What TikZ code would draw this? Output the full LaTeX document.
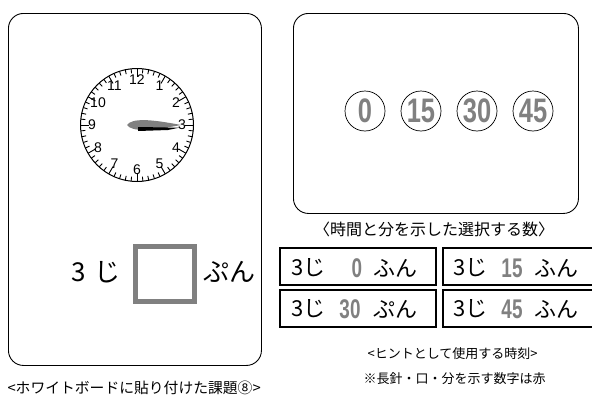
\documentclass[tikz,border=0pt]{standalone}
\usepackage{fontspec}
\usetikzlibrary{calc}
\setmainfont{Liberation Sans}
\newfontfamily\jp{Noto Sans CJK JP}
\definecolor{redgray}{HTML}{808080}
\tikzset{
  board/.style={draw, line width=0.9pt, rounded corners=15pt},
  hintbox/.style={draw, line width=1.4pt},
  numcirc/.style={draw, circle, line width=0.7pt, minimum size=40pt, inner sep=0pt},
  captext/.style={font=\jp\fontsize{13}{15}\selectfont},
  numtxt/.style={text=redgray, font=\bfseries\fontsize{34}{34}\selectfont, xscale=0.75, inner sep=0pt},
  hint/.style={inner sep=0pt, font=\jp\fontsize{22}{22}\selectfont},
  hnum/.style={inner sep=0pt, text=redgray, font=\bfseries\fontsize{27}{27}\selectfont, xscale=0.7},
  bigtxt/.style={inner sep=0pt, font=\jp\fontsize{26}{26}\selectfont}
}
\begin{document}
\begin{tikzpicture}[x=1pt,y=-1pt]
\useasboundingbox (0,0) rectangle (592,399);
% boards
\node[board, minimum width=253pt, minimum height=352pt, anchor=north west] (lb) at (8,13) {};
\node[board, minimum width=285pt, minimum height=200pt, anchor=north west] (rb) at (293,13) {};
% clock
\coordinate (cc) at (137,125);
\draw[line width=1pt] (cc) circle (56.5);
\foreach \i in {0,...,59}{
  \pgfmathsetmacro{\ang}{90-6*\i}
  \pgfmathsetmacro{\rin}{mod(\i,5)==0 ? 48 : 52}
  \pgfmathsetmacro{\xa}{137+56.5*cos(\ang)}
  \pgfmathsetmacro{\ya}{125-56.5*sin(\ang)}
  \pgfmathsetmacro{\xb}{137+\rin*cos(\ang)}
  \pgfmathsetmacro{\yb}{125-\rin*sin(\ang)}
  \draw[line width=0.9pt] (\xa,\ya) -- (\xb,\yb);
}
\foreach \h in {1,...,12}{
  \pgfmathsetmacro{\ang}{90-30*\h}
  \pgfmathsetmacro{\xh}{137+45*cos(\ang)}
  \pgfmathsetmacro{\yh}{125-45*sin(\ang)}
  \node[font=\fontsize{14}{14}\selectfont, inner sep=0pt] (h\h) at (\xh,\yh) {\h};
}
% minute hand (gray leaf)
\fill[redgray] (127,125) .. controls (132,118) and (150,119) .. (181,125) .. controls (150,131) and (132,132) .. cycle;
% hour hand (black)
\fill[black] (138,127) -- (168,127.5) -- (180,127.5) -- (168,130) -- (138,131) -- cycle;
% left board text
\node[bigtxt] (san) at (79,272) {3};
\node[bigtxt] (ji) at (107,272) {じ};
\draw[redgray, line width=4.5pt] (135.5,246.5) rectangle (194.5,301.5);
\node[bigtxt] (pun) at (229,272) {ぷん};
% circles
\node[numcirc] (c0) at (365,111) {}; \node[numtxt] at (c0) {0};
\node[numcirc] (c15) at (421,111) {}; \node[numtxt] at (c15) {15};
\node[numcirc] (c30) at (477,111) {}; \node[numtxt] at (c30) {30};
\node[numcirc] (c45) at (533,111) {}; \node[numtxt] at (c45) {45};
\node[captext, font=\jp\fontsize{16}{18}\selectfont] (cap1) at (434,229) {〈時間と分を示した選択する数〉};
% hint boxes
\draw[hintbox] (280,248) rectangle (436,285);
\draw[hintbox] (443,248) rectangle (594,285);
\draw[hintbox] (280,290) rectangle (436,327);
\draw[hintbox] (443,290) rectangle (594,327);
\node[hint] (t1) at (298,268) {3};
\node[hint] (j1) at (314,268) {じ};
\node[hnum] (n1) at (357,268) {0};
\node[hint] (f1) at (395,268) {ふん};
\node[hint] (t2) at (460,268) {3};
\node[hint] (j2) at (476,268) {じ};
\node[hnum] (n2) at (512,268) {15};
\node[hint] (f2) at (556,268) {ふん};
\node[hint] (t3) at (298,309) {3};
\node[hint] (j3) at (314,309) {じ};
\node[hnum] (n3) at (350,309) {30};
\node[hint] (f3) at (395,309) {ぷん};
\node[hint] (t4) at (460,309) {3};
\node[hint] (j4) at (476,309) {じ};
\node[hnum] (n4) at (512,309) {45};
\node[hint] (f4) at (556,309) {ふん};
% captions
\node[captext, anchor=west] (cap2) at (364,354) {<ヒントとして使用する時刻>};
\node[captext, anchor=west] (cap3) at (360,379) {※長針・口・分を示す数字は赤};
\node[captext, anchor=west, font=\jp\fontsize{14.8}{16}\selectfont] (cap4) at (4,388) {<ホワイトボードに貼り付けた課題⑧>};
\end{tikzpicture}
\end{document}
